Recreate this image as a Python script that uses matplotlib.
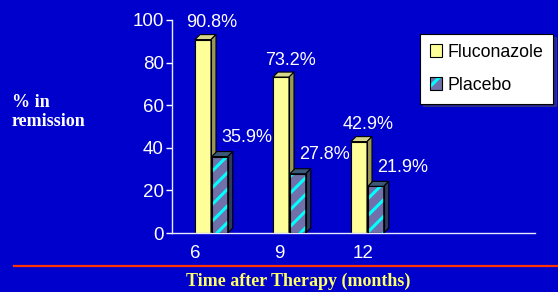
import matplotlib
matplotlib.use("Agg")
import matplotlib.pyplot as plt
import numpy as np
from matplotlib.patches import Polygon, Patch
from matplotlib.lines import Line2D
from matplotlib.legend_handler import HandlerTuple

months = ["6", "9", "12"]
fluconazole = [90.8, 73.2, 42.9]
placebo = [35.9, 27.8, 21.9]
series_names = ["Fluconazole", "Placebo"]

BG = "#0000CC"
plt.rcParams["font.family"] = ["Liberation Sans", "DejaVu Sans"]
plt.rcParams["hatch.color"] = "#00FFFF"
plt.rcParams["hatch.linewidth"] = 2.2

fig = plt.figure(figsize=(5.58, 2.92), dpi=100, facecolor=BG)
ax = fig.add_axes([172 / 558, 59 / 292, 363 / 558, 213 / 292])
ax.set_facecolor(BG)

x = np.arange(len(months))
w = 0.205
dx, dy = 0.064, 2.35   # fake 3d depth (data units)


def bar3d(x0, h, front, side, top, hatch=None, z=2):
    ax.bar(x0, h, w, align="edge", color=front, hatch=hatch, zorder=z)
    ax.bar(x0, h, w, align="edge", facecolor="none", edgecolor="black",
           linewidth=0.8, zorder=z + 0.1)
    ax.add_patch(Polygon([(x0, h), (x0 + w, h), (x0 + w + dx, h + dy), (x0 + dx, h + dy)],
                         closed=True, facecolor=top, edgecolor="black", lw=0.8, zorder=z))
    ax.add_patch(Polygon([(x0 + w, 0), (x0 + w + dx, dy), (x0 + w + dx, h + dy), (x0 + w, h)],
                         closed=True, facecolor=side, edgecolor="black", lw=0.8, zorder=z))


for i in x:
    xf = i - 0.025
    bar3d(xf, fluconazole[i], "#FFFF99", "#99995A", "#D6D68A", z=2)
    xp = xf + w + 0.01
    bar3d(xp, placebo[i], "#7070AA", "#2E3A5E", "#3C5878", hatch="//", z=3)
    ax.annotate(f"{fluconazole[i]}%", (xf + w / 2, fluconazole[i]), xytext=(9, 17),
                textcoords="offset pixels", ha="center", va="center",
                color="white", fontsize=13)
    ax.annotate(f"{placebo[i]}%", (xp + w / 2, placebo[i]), xytext=(27, 19),
                textcoords="offset pixels", ha="center", va="center",
                color="white", fontsize=13)

ax.set_xlim(-0.32, -0.32 + 363 / 78)
ax.set_ylim(0, 100)
ax.set_yticks(np.arange(0, 101, 20))
# category labels sit a bit wider apart than the bars in the original
ax.set_xticks(x * 1.077 - 0.025)
ax.set_xticklabels(months)
ax.tick_params(axis="y", colors="white", labelsize=13.5, length=4, width=1, pad=2)
ax.tick_params(axis="x", colors="white", labelsize=13.5, length=0, pad=9)
for s in ["top", "right"]:
    ax.spines[s].set_visible(False)
for s in ["left", "bottom"]:
    ax.spines[s].set_color("#E8E8FF")
    ax.spines[s].set_linewidth(1)

h_fl = Patch(facecolor="#FFFF99", edgecolor="black", linewidth=0.8)
h_pl = (Patch(facecolor="#7070AA", hatch="//"),
        Patch(facecolor="none", edgecolor="black", linewidth=0.8))
leg = fig.legend([h_fl, h_pl], series_names, loc="upper left",
                 bbox_to_anchor=(420 / 558, 1 - 34 / 292), bbox_transform=fig.transFigure,
                 handler_map={tuple: HandlerTuple(ndivide=1, pad=0)},
                 fontsize=12.8, frameon=True, fancybox=False, shadow=True,
                 handlelength=0.7, handleheight=0.7, handletextpad=0.3,
                 labelspacing=0.9, borderpad=0.55, borderaxespad=0)
leg.get_frame().set_facecolor("white")
leg.get_frame().set_edgecolor("black")
leg.get_frame().set_linewidth(0.8)

fig.text(12 / 558, 1 - 112 / 292, "% in\nremission", ha="left", va="center",
         color="white", fontsize=13, fontweight="bold", family="Liberation Serif",
         linespacing=1.15)
fig.text(298 / 558, 1 - 281 / 292, "Time after Therapy (months)", ha="center", va="center",
         color="#FFFF66", fontsize=13, fontweight="bold", family="Liberation Serif")
fig.add_artist(Line2D([14 / 558, 1.0], [1 - 266 / 292] * 2, color="#FF3300", lw=1.6,
                      transform=fig.transFigure))

fig.savefig("out.png", dpi=100, facecolor=BG)
